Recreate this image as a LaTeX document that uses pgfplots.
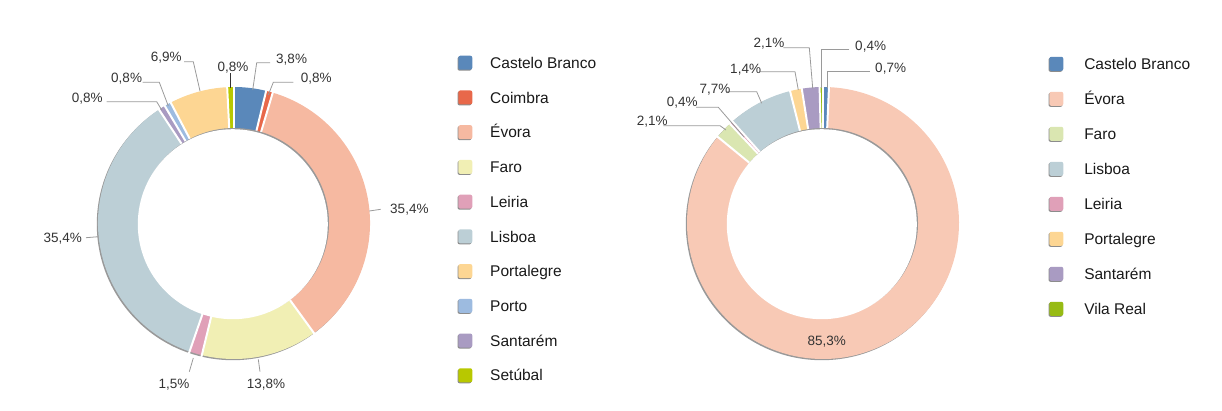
\documentclass[border=0pt]{standalone}
\usepackage{pgfplots}
\pgfplotsset{compat=1.18}
\usepackage{fontspec}
\setmainfont{Liberation Sans}
\definecolor{cb}{HTML}{5A88BA}
\definecolor{coimbra}{HTML}{E8684A}
\definecolor{evoraL}{HTML}{F6B9A1}
\definecolor{faroL}{HTML}{F1EFB4}
\definecolor{leiria}{HTML}{E0A0B8}
\definecolor{lisboa}{HTML}{BCCFD6}
\definecolor{portalegre}{HTML}{FDD693}
\definecolor{porto}{HTML}{9DBBE0}
\definecolor{santarem}{HTML}{A99BC2}
\definecolor{setubal}{HTML}{B8C800}
\definecolor{evoraR}{HTML}{F8C9B5}
\definecolor{faroR}{HTML}{DAE6B1}
\definecolor{vilareal}{HTML}{97BB14}
\definecolor{lead}{HTML}{9A9A9A}
\definecolor{lbl}{HTML}{333333}

% #1 cx, #2 cy (image coords), #3 degrees per unit, #4 list value/colour
\newcommand\donut[4]{%
  \pgfmathsetmacro\sx{#1-1.2}\pgfmathsetmacro\sy{#2+1.2}%
  \edef\temp{\noexpand\fill[black!40] (axis cs:\sx,\sy) circle[radius=136pt];}\temp
  \gdef\cum{0}%
  \foreach \v/\c in {#4}{%
    \pgfmathsetmacro\aS{90-#3*\cum}%
    \pgfmathsetmacro\aE{90-#3*(\cum+\v)}%
    \edef\temp{\noexpand\fill[\c] (axis cs:#1,#2) -- ++(\aS:136pt) arc[start angle=\aS,end angle=\aE,radius=136pt] -- cycle;}\temp
    \pgfmathsetmacro\tmp{\cum+\v}\xdef\cum{\tmp}%
  }%
  \gdef\cum{0}%
  \foreach \v/\c in {#4}{%
    \pgfmathsetmacro\aS{90-#3*\cum}%
    \edef\temp{\noexpand\draw[white,line width=2pt] (axis cs:#1,#2) -- ++(\aS:138pt);}\temp
    \pgfmathsetmacro\tmp{\cum+\v}\xdef\cum{\tmp}%
  }%
  \edef\temp{\noexpand\fill[black!40] (axis cs:#1,#2) circle[radius=95pt];}\temp
  \edef\temp{\noexpand\fill[white] (axis cs:\sx,\sy) circle[radius=95pt];}\temp
}

\begin{document}
\begin{tikzpicture}
\begin{axis}[x=1pt,y=1pt,xmin=0,xmax=1222,ymin=0,ymax=410,y dir=reverse,
  hide axis,scale only axis,clip=false,
  every node/.style={inner sep=0pt,outer sep=0pt}]
\path (axis cs:0,0) rectangle (axis cs:1222,410);

% ---------- left donut ----------
\donut{234}{223}{3.6}{3.8/cb,0.8/coimbra,35.4/evoraL,13.8/faroL,1.5/leiria,35.4/lisboa,0.8/santarem,0.8/porto,6.9/portalegre,0.8/setubal}

\begin{scope}[lead,line width=0.8pt]
\draw (axis cs:252.7,90) -- (axis cs:256.7,62.7) -- (axis cs:270,62.7);
\draw (axis cs:268.3,95) -- (axis cs:273.3,82.3) -- (axis cs:293.3,82.3);
\draw (axis cs:200,91) -- (axis cs:193.3,61.7) -- (axis cs:184,61.7);
\draw (axis cs:142.7,82.3) -- (axis cs:159.3,82.3) -- (axis cs:168.3,106);
\draw (axis cs:106.7,101.7) -- (axis cs:156.7,101.7) -- (axis cs:161.7,110);
\draw (axis cs:193.3,358) -- (axis cs:189.3,371.7);
\draw (axis cs:258.3,359.3) -- (axis cs:260,371.7);
\draw (axis cs:369.3,211) -- (axis cs:380.7,209.3);
\draw (axis cs:86,237.7) -- (axis cs:98.3,236.7);
\end{scope}
\draw[black!80,line width=0.8pt] (axis cs:230.7,88) -- (axis cs:230.7,73.3);

\begin{scope}[every node/.append style={anchor=base west,text=lbl,font=\fontsize{13.5}{16}\selectfont}]
\node at (axis cs:272.7,63.3) {3,8\%};
\node at (axis cs:297.3,82.7) {0,8\%};
\node at (axis cs:147.3,61.7) {6,9\%};
\node at (axis cs:214,71.7) {0,8\%};
\node at (axis cs:107.7,82.7) {0,8\%};
\node at (axis cs:68.3,102.7) {0,8\%};
\node at (axis cs:155,388.3) {1,5\%};
\node at (axis cs:243.3,388.3) {13,8\%};
\node at (axis cs:386.7,213.3) {35,4\%};
\node at (axis cs:40,242.7) {35,4\%};
\end{scope}

% ---------- left legend ----------
\foreach \n/\c [count=\i from 0] in {Castelo Branco/cb,Coimbra/coimbra,Évora/evoraL,Faro/faroL,Leiria/leiria,Lisboa/lisboa,Portalegre/portalegre,Porto/porto,Santarém/santarem,Setúbal/setubal}{
  \pgfmathsetmacro\yy{62.7+34.73*\i}
  \pgfmathsetmacro\ya{\yy-7}\pgfmathsetmacro\yb{\yy+7}
  \pgfmathsetmacro\yc{\yy-6}\pgfmathsetmacro\yd{\yy+8}
  \pgfmathsetmacro\yt{\yy+5.7}
  \edef\temp{\noexpand\fill[black!45,rounded corners=2pt] (axis cs:457.5,\yc) rectangle (axis cs:471.5,\yd);
    \noexpand\fill[\c,rounded corners=2pt] (axis cs:458.3,\ya) rectangle (axis cs:472.3,\yb);
    \noexpand\node[anchor=base west,font=\noexpand\fontsize{15.5}{18}\noexpand\selectfont,text=black!90] at (axis cs:486.7,\yt) {\n};}\temp
}

% ---------- right donut ----------
\donut{823}{223}{3.5964}{0.7/cb,85.3/evoraR,2.1/faroR,0.4/leiria,7.7/lisboa,1.4/portalegre,2.1/santarem,0.4/vilareal}

\begin{scope}[lead,line width=0.8pt]
\draw (axis cs:783.3,47.7) -- (axis cs:809.3,47.7) -- (axis cs:812.7,88.3);
\draw (axis cs:849.3,49.3) -- (axis cs:821.7,49.3) -- (axis cs:821.7,88.3);
\draw (axis cs:870,71.7) -- (axis cs:827.7,71.7) -- (axis cs:827.7,88.3);
\draw (axis cs:760,71.7) -- (axis cs:795,71.7) -- (axis cs:798.3,90);
\draw (axis cs:726.7,91.7) -- (axis cs:756.7,91.7) -- (axis cs:761.7,103.3);
\draw (axis cs:696,107.3) -- (axis cs:718.3,107.3) -- (axis cs:744,137);
\draw (axis cs:663.3,125.7) -- (axis cs:720,125.7) -- (axis cs:726,130);
\end{scope}

\begin{scope}[every node/.append style={anchor=base west,text=lbl,font=\fontsize{13.5}{16}\selectfont}]
\node at (axis cs:750,47.7) {2,1\%};
\node at (axis cs:851.7,50.7) {0,4\%};
\node at (axis cs:871.7,72.7) {0,7\%};
\node at (axis cs:726.7,73.3) {1,4\%};
\node at (axis cs:696,93.3) {7,7\%};
\node at (axis cs:663.3,106.7) {0,4\%};
\node at (axis cs:633.3,125.7) {2,1\%};
\node at (axis cs:804,345) {85,3\%};
\end{scope}

% ---------- right legend ----------
\foreach \n/\c [count=\i from 0] in {Castelo Branco/cb,Évora/evoraR,Faro/faroR,Lisboa/lisboa,Leiria/leiria,Portalegre/portalegre,Santarém/santarem,Vila Real/vilareal}{
  \pgfmathsetmacro\yy{63.8+35*\i}
  \pgfmathsetmacro\ya{\yy-7}\pgfmathsetmacro\yb{\yy+7}
  \pgfmathsetmacro\yc{\yy-6}\pgfmathsetmacro\yd{\yy+8}
  \pgfmathsetmacro\yt{\yy+5.8}
  \edef\temp{\noexpand\fill[black!45,rounded corners=2pt] (axis cs:1048.5,\yc) rectangle (axis cs:1062.5,\yd);
    \noexpand\fill[\c,rounded corners=2pt] (axis cs:1049.3,\ya) rectangle (axis cs:1063.3,\yb);
    \noexpand\node[anchor=base west,font=\noexpand\fontsize{15.5}{18}\noexpand\selectfont,text=black!90] at (axis cs:1080.7,\yt) {\n};}\temp
}
\end{axis}
\end{tikzpicture}
\end{document}
